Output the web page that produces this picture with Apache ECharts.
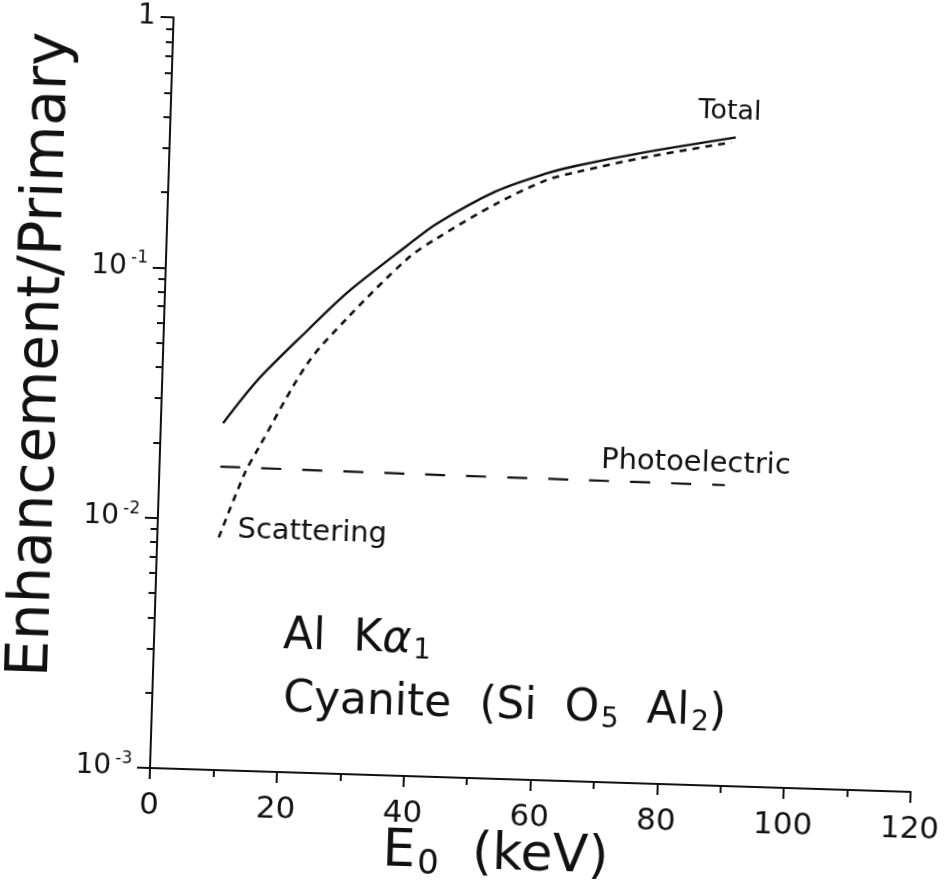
<!DOCTYPE html>
<html>
<head>
<meta charset="utf-8">
<script src="https://cdn.jsdelivr.net/npm/echarts@6/dist/echarts.min.js"></script>
<style>
  html, body { margin: 0; padding: 0; background: #fff; }
  /* the plotted sheet sits slightly turned, pivoting on the axis origin */
  #chart { width: 944px; height: 889px; transform: rotate(1.8deg); transform-origin: 150px 768px; }
</style>
</head>
<body>
<div id="chart"></div>
<script>
// Primary beam energy E0 (keV) and enhancement/primary ratio for each contribution
const totalEnergy   = [9.8, 15, 22.6, 28.7, 37.9, 42.5, 51.7, 59.5, 64.2, 75.1, 89.2];
const totalRatio    = [0.0243, 0.0364, 0.0583, 0.0836, 0.131, 0.162, 0.222, 0.265, 0.287, 0.332, 0.39];
const scatterEnergy = [9.7, 13.5, 15.5, 22.8, 28.9, 38, 42.6, 51.8, 59.5, 64.3, 75.1, 88.5];
const scatterRatio  = [0.0085, 0.0155, 0.0195, 0.0431, 0.0664, 0.116, 0.1416, 0.198, 0.249, 0.271, 0.317, 0.372];
const photoEnergy   = [9.6, 40, 65, 89.2];
const photoRatio    = [0.0163, 0.0161, 0.016, 0.0159];

// axis ticks
const xTickStep   = 20;
const yMajorTicks = [0.001, 0.01, 0.1, 1];
const yMinorTicks = [0.002, 0.003, 0.004, 0.005, 0.006, 0.007, 0.008, 0.009,
                     0.02, 0.03, 0.04, 0.05, 0.06, 0.07, 0.08, 0.09,
                     0.2, 0.3, 0.4, 0.5, 0.6, 0.7, 0.8, 0.9];

const ink = '#111';
const font = 'DejaVu Sans';

const pairs = (xs, ys) => xs.map((x, i) => [x, ys[i]]);

const chart = echarts.init(document.getElementById('chart'), null, { renderer: 'canvas' });

chart.setOption({
  backgroundColor: '#fff',
  animation: false,
  grid: { left: 150, right: 33, top: 17, bottom: 121 },
  xAxis: {
    type: 'value', min: 0, max: 120, interval: xTickStep,
    axisLine: { lineStyle: { color: ink, width: 2 } },
    axisTick: { length: 11, lineStyle: { color: ink, width: 2 } },
    minorTick: { show: true, splitNumber: 2, length: 7, lineStyle: { color: ink, width: 2 } },
    splitLine: { show: false },
    axisLabel: { color: ink, fontFamily: font, fontSize: 31, margin: 22 }
  },
  yAxis: [
    {
      type: 'log', logBase: 10, min: 0.001, max: 1,
      axisLine: { show: true, lineStyle: { color: ink, width: 2 } },
      axisTick: { show: true, length: 13, customValues: yMajorTicks, lineStyle: { color: ink, width: 2 } },
      splitLine: { show: false },
      axisLabel: {
        customValues: yMajorTicks, margin: 18, color: ink, fontFamily: font,
        formatter: v => {
          if (Math.abs(v - 1) < 1e-9) return '{n|1}';
          return '{n|10}{s|' + Math.round(Math.log10(v)) + '}';
        },
        rich: {
          n: { fontSize: 28, lineHeight: 34, fontFamily: font, color: ink },
          s: { fontSize: 17, lineHeight: 17, padding: [0, 0, 17, 4], fontFamily: font, color: ink }
        }
      }
    },
    {
      type: 'log', logBase: 10, min: 0.001, max: 1, position: 'left',
      axisLine: { show: false },
      axisTick: { show: true, length: 7, customValues: yMinorTicks, lineStyle: { color: ink, width: 2 } },
      axisLabel: { show: false },
      splitLine: { show: false }
    }
  ],
  series: [
    {
      name: 'Total', type: 'line', yAxisIndex: 0, showSymbol: false, smooth: 0.3,
      data: pairs(totalEnergy, totalRatio),
      lineStyle: { color: ink, width: 2.4, type: 'solid' }
    },
    {
      name: 'Scattering', type: 'line', yAxisIndex: 0, showSymbol: false, smooth: 0.3,
      data: pairs(scatterEnergy, scatterRatio),
      lineStyle: { color: ink, width: 2.6, type: [7, 6] }
    },
    {
      name: 'Photoelectric', type: 'line', yAxisIndex: 0, showSymbol: false, smooth: 0.3,
      data: pairs(photoEnergy, photoRatio),
      lineStyle: { color: ink, width: 2.2, type: [20, 21] }
    }
  ],
  graphic: [
    {
      type: 'text', x: 29, y: 358, rotation: Math.PI / 2,
      style: { text: 'Enhancement/Primary', fontFamily: font, fontSize: 58, fill: ink,
               align: 'center', verticalAlign: 'middle' }
    },
    {
      type: 'text', x: 498, y: 844,
      style: {
        text: '{m|E}{sub|0}{m|  (keV)}', align: 'center', verticalAlign: 'middle',
        rich: {
          m: { fontFamily: font, fontSize: 52, lineHeight: 60, fill: ink },
          sub: { fontFamily: font, fontSize: 34, lineHeight: 40, padding: [24, 0, 0, 2], fill: ink }
        }
      }
    },
    {
      type: 'text', x: 709, y: 94,
      style: { text: 'Total', fontFamily: font, fontSize: 27, fill: ink, align: 'center', verticalAlign: 'middle' }
    },
    {
      type: 'text', x: 686, y: 446,
      style: { text: 'Photoelectric', fontFamily: font, fontSize: 29, fill: ink, align: 'center', verticalAlign: 'middle' }
    },
    {
      type: 'text', x: 230, y: 527,
      style: { text: 'Scattering', fontFamily: font, fontSize: 29, fill: ink, align: 'left', verticalAlign: 'middle' }
    },
    {
      type: 'text', x: 279, y: 633,
      style: {
        text: '{m|Al  K}{g|α}{sub|1}', align: 'left', verticalAlign: 'middle',
        rich: {
          m: { fontFamily: font, fontSize: 44, lineHeight: 52, fill: ink },
          g: { fontFamily: font, fontSize: 44, lineHeight: 52, fontStyle: 'italic', fill: ink },
          sub: { fontFamily: font, fontSize: 28, lineHeight: 32, padding: [20, 0, 0, 2], fill: ink }
        }
      }
    },
    {
      type: 'text', x: 281, y: 696,
      style: {
        text: '{m|Cyanite  (Si  O}{sub|5}{m|  Al}{sub|2}{m|)}', align: 'left', verticalAlign: 'middle',
        rich: {
          m: { fontFamily: font, fontSize: 44, lineHeight: 52, fill: ink },
          sub: { fontFamily: font, fontSize: 28, lineHeight: 32, padding: [20, 0, 0, 2], fill: ink }
        }
      }
    }
  ]
});
</script>
</body>
</html>
